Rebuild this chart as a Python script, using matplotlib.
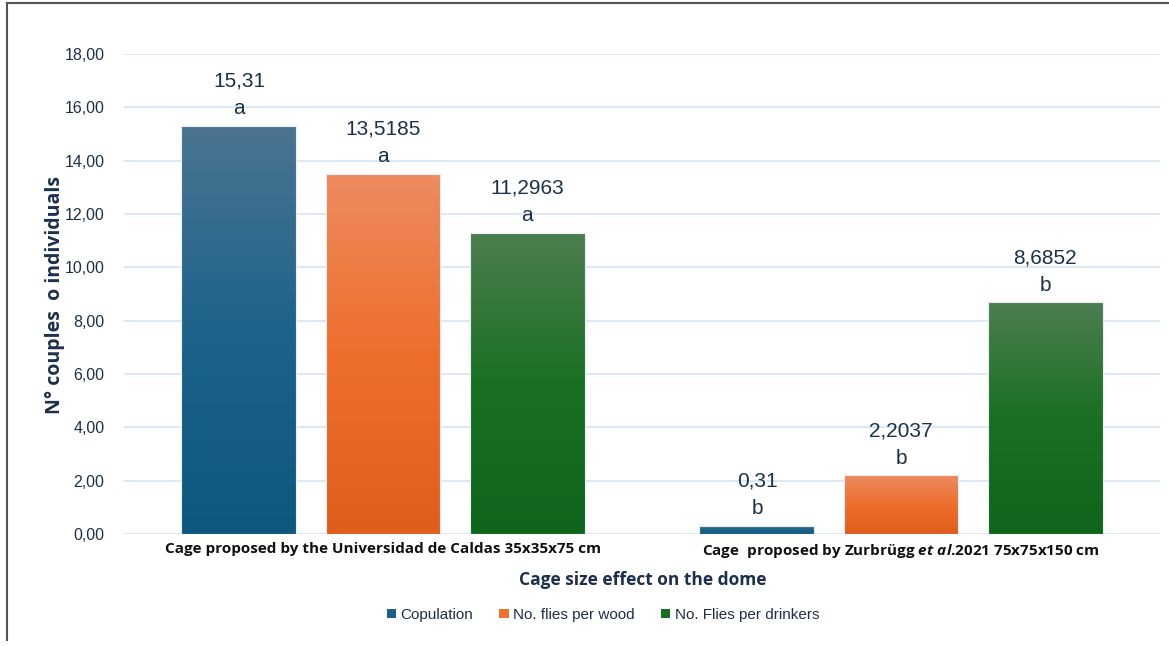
import numpy as np
import matplotlib
matplotlib.use("Agg")
import matplotlib.pyplot as plt
from matplotlib.colors import LinearSegmentedColormap
from matplotlib.patches import Patch
from matplotlib.lines import Line2D

# data
categories = ["Cage proposed by the Universidad de Caldas 35x35x75 cm",
              "Cage  proposed by Zurbrügg $\\it{et\\ al}$.2021 75x75x150 cm"]
series = ["Copulation", "No. flies per wood", "No. Flies per drinkers"]
values = [[15.31, 0.31],
          [13.5185, 2.2037],
          [11.2963, 8.6852]]
value_labels = [["15,31", "0,31"],
                ["13,5185", "2,2037"],
                ["11,2963", "8,6852"]]
letters = [["a", "b"], ["a", "b"], ["a", "b"]]
yticks = [0, 2, 4, 6, 8, 10, 12, 14, 16, 18]

# colours: (top, middle, bottom) of the gradient, plus legend swatch
grads = [("#4b7491", "#1d638a", "#0e587d"),
         ("#ed8b5f", "#ee6e2c", "#e05e1c"),
         ("#4b7e50", "#1a7022", "#0f651b")]
swatch = ["#1a6088", "#f07030", "#177020"]
navy = "#1c2f4c"

plt.rcParams['font.family'] = ['Liberation Sans', 'DejaVu Sans']
plt.rcParams['mathtext.fontset'] = 'custom'
plt.rcParams['mathtext.it'] = 'Open Sans:italic:bold'
plt.rcParams['mathtext.rm'] = 'Open Sans:bold'

fig = plt.figure(figsize=(11.69, 6.46), dpi=100)
ax = fig.add_axes([124/1169, 1-534/646, (1160-124)/1169, (534-54)/646])

x = np.arange(len(categories))
width = 0.222
step = 0.278
for i in range(len(series)):
    pos = x + (i - 1) * step
    bars = ax.bar(pos, values[i], width, facecolor="none",
                  edgecolor="#e8eef4", linewidth=0.8, zorder=3)
    cmap = LinearSegmentedColormap.from_list("g%d" % i, list(grads[i]))
    for b, lab, let in zip(bars, value_labels[i], letters[i]):
        x0 = b.get_x()
        h = b.get_height()
        grad = np.linspace(0, 1, 100).reshape(-1, 1)
        im = ax.imshow(grad, cmap=cmap, aspect='auto', origin='upper',
                       extent=(x0, x0 + width, 0, h), zorder=2)
        im.set_clip_path(b)
        ax.annotate(lab + "\n" + let, (x0 + width/2, h), xytext=(0, 5.5),
                    textcoords="offset points", ha="center", va="bottom",
                    fontsize=15, color=navy, linespacing=1.55)

ax.set_xlim(-0.5, 1.5)
ax.set_ylim(0, 18)
ax.set_yticks(yticks)
ax.set_yticklabels([("%.2f" % v).replace(".", ",") for v in yticks],
                   fontsize=11.5, color=navy)
ax.set_xticks(x)
ax.set_xticklabels(categories, fontsize=11, fontweight="bold",
                   family=["Open Sans", "DejaVu Sans"], color="#111111")
ax.tick_params(axis="both", length=0)
ax.tick_params(axis="y", pad=14)
ax.tick_params(axis="x", pad=6)
ax.grid(axis="y", color="#dce8f6", linewidth=1.5, zorder=0)
ax.set_axisbelow(True)
for s in ax.spines.values():
    s.set_visible(False)

fig.text(55/1169, 1-295/646, "N° couples  o individuals", rotation=90,
         ha="center", va="center", fontsize=14, fontweight="bold",
         family=["Open Sans", "DejaVu Sans"], color=navy)
fig.text(643/1169, 1-580/646, "Cage size effect on the dome", ha="center",
         va="center", fontsize=12.5, fontweight="bold",
         family=["Open Sans", "DejaVu Sans"], color=navy)

handles = [Patch(facecolor=c, edgecolor="none") for c in swatch]
fig.legend(handles, series, loc="center", bbox_to_anchor=(603/1169, 1-615/646),
           ncol=3, frameon=False, fontsize=11, handlelength=0.6,
           handleheight=0.6, handletextpad=0.3, columnspacing=1.7,
           labelcolor=navy)

# outer frame (top and left only)
fig.add_artist(Line2D([7/1169, 1], [1-3/646, 1-3/646], color="#555555", lw=1.5))
fig.add_artist(Line2D([7/1169, 7/1169], [1-3/646, 1-640/646], color="#555555", lw=1.5))

fig.savefig("out.png", dpi=100)
